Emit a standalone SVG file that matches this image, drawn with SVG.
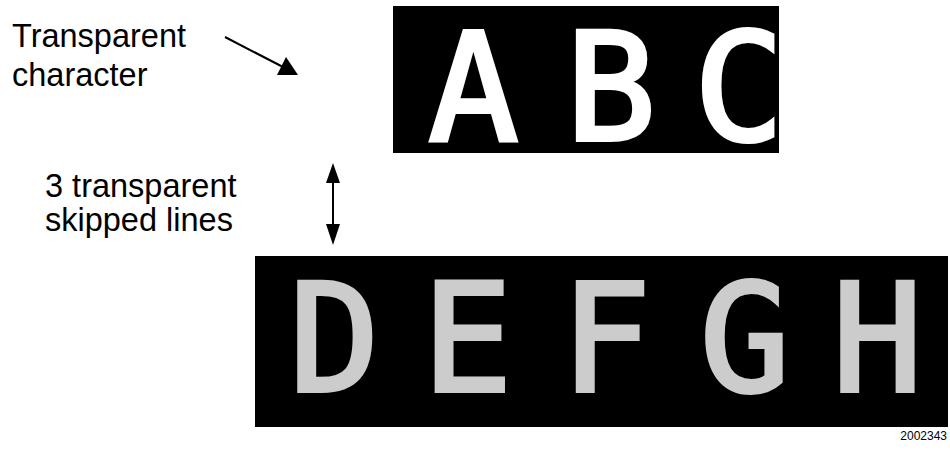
<svg xmlns="http://www.w3.org/2000/svg" width="950" height="451" viewBox="0 0 950 451">
  <style>
    .lbl { font-family: "Liberation Sans", Arial, sans-serif; font-size: 32.5px; fill: #000; }
    .fig { font-family: "Liberation Sans", Arial, sans-serif; font-size: 12px; fill: #000; }
    .screen { fill: #000; }
    .chr { font-family: "DejaVu Sans Mono", "Liberation Mono", monospace; font-size: 150px; text-anchor: middle; stroke-width: 4; stroke-linejoin: miter; }
    .white { fill: #fff; stroke: #fff; }
    .grey { fill: #ccc; stroke: #ccc; }
    .conn { stroke: #000; stroke-width: 2; fill: none; }
    .head { fill: #000; }
  </style>
  <g id="label-transparent-character">
    <text class="lbl" x="12" y="47">Transparent</text>
    <text class="lbl" x="12" y="86">character</text>
  </g>
  <g id="label-skipped-lines">
    <text class="lbl" x="45" y="197">3 transparent</text>
    <text class="lbl" x="45" y="231">skipped lines</text>
  </g>
  <g id="display-abc">
    <rect class="screen" x="393" y="6" width="386" height="147"/>
    <text class="chr white" x="473.5" y="140">A</text>
    <text class="chr white" x="611" y="140">B</text>
    <text class="chr white" x="739" y="140">C</text>
  </g>
  <g id="display-defgh">
    <rect class="screen" x="255" y="256" width="693" height="171"/>
    <text class="chr grey" x="334.5" y="391">D</text>
    <text class="chr grey" x="467.5" y="391">E</text>
    <text class="chr grey" x="606" y="391">F</text>
    <text class="chr grey" x="745" y="391">G</text>
    <text class="chr grey" x="877.5" y="391">H</text>
  </g>
  <g id="connectors">
    <line class="conn" x1="225" y1="37" x2="283" y2="67"/>
    <polygon class="head" points="277,75 298,75 286,57"/>
    <line class="conn" x1="333" y1="178" x2="333" y2="230"/>
    <polygon class="head" points="333,163 326,183 340,183"/>
    <polygon class="head" points="333,245 326,224 340,224"/>
  </g>
  <g id="figure-number">
    <text class="fig" x="947" y="440" text-anchor="end">2002343</text>
  </g>
</svg>
